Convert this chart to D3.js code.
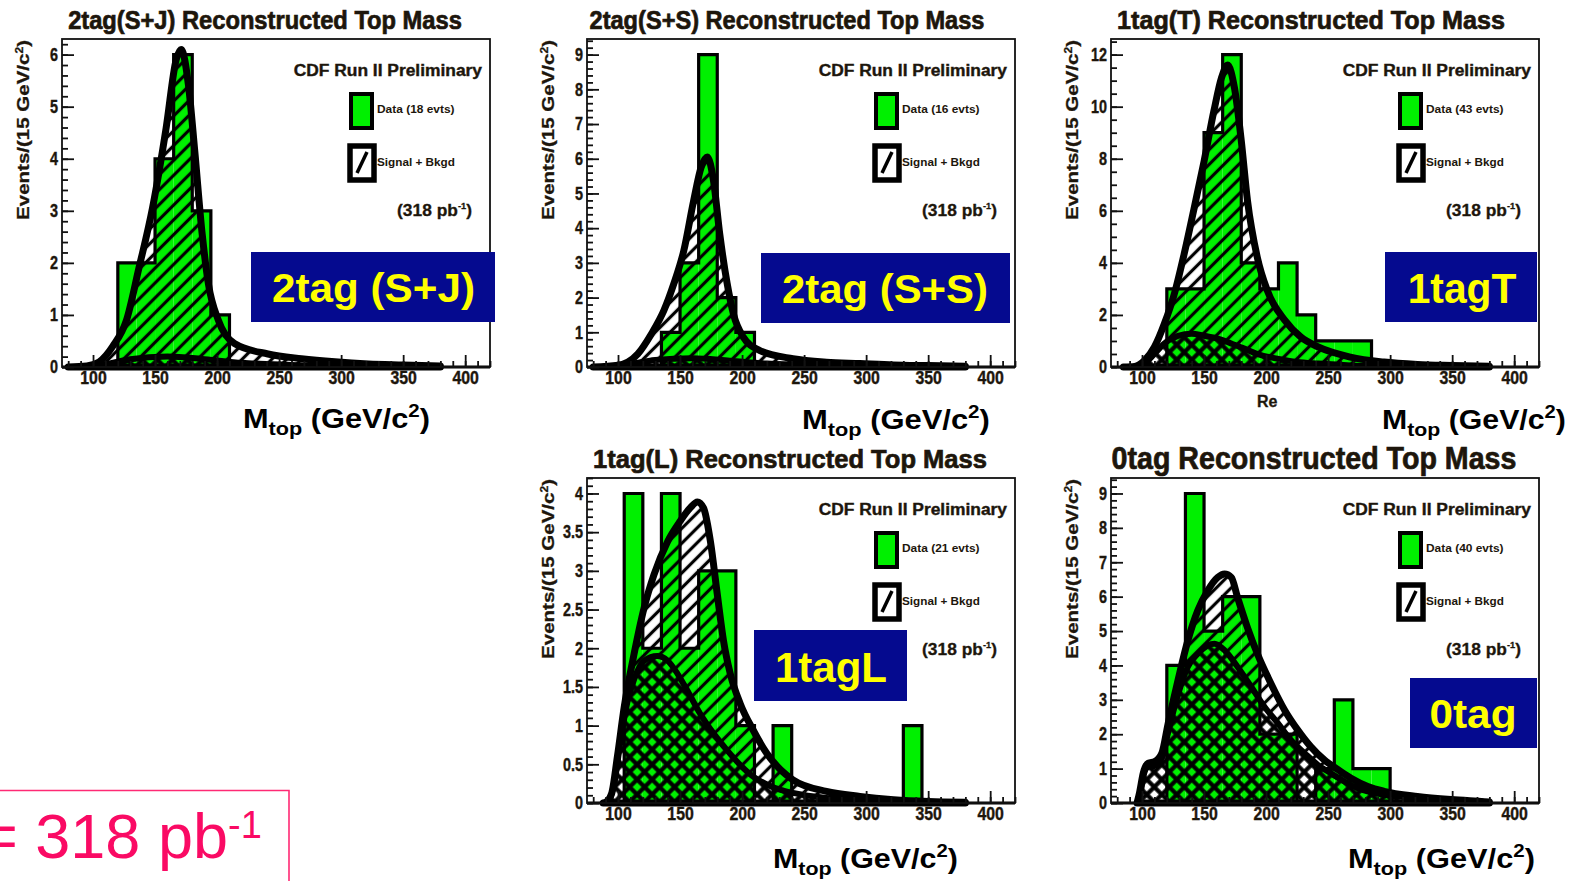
<!DOCTYPE html>
<html>
<head>
<meta charset="utf-8">
<script src="https://cdn.jsdelivr.net/npm/d3@7"></script>
<style>
  body { margin: 0; background: #fff; }
  svg { display: block; }
</style>
</head>
<body>
<svg id="fig" width="1572" height="881"></svg>
<script>
// ---- histogram binning: 15 GeV/c^2 bins from 75 to 420 GeV/c^2 (23 bins) ----
const massMin = 75, massMax = 420, binWidth = 15;
const massTicks = [100, 150, 200, 250, 300, 350, 400];

// ---- data counts per bin (first bin starts at 75) ----
const sjData = [0,0,0,2,2,4,6,3,1,0,0,0,0,0,0,0,0,0,0,0,0,0,0];
const ssData = [0,0,0,0,1,3,9,2,1,0,0,0,0,0,0,0,0,0,0,0,0,0,0];
const tData  = [0,0,0,3,3,9,12,4,3,4,2,1,1,1,0,0,0,0,0,0,0,0,0];
const lData  = [0,0,4,2,4,2,3,3,1,0,1,0,0,0,0,0,0,1,0,0,0,0,0];
const zData  = [0,0,0,4,9,5,6,6,2,2,0,1,3,1,1,0,0,0,0,0,0,0,0];

// ---- signal + background expectation, [mass, events] ----
const sjFit = [[80,0],[95,0.02],[105,0.1],[116,0.4],[127,0.9],[137,1.9],[148,3.06],[159,4.6],[167,5.9],[171,6.1],[177,5.4],[182,4.15],[188,2.55],[193,1.6],[201,0.9],[214,0.45],[241,0.25],[268,0.16],[295,0.1],[322,0.06],[350,0.04],[380,0.02]];
const ssFit = [[80,0],[100,0.05],[116,0.38],[127,0.96],[137,1.63],[145,2.4],[153,3.35],[161,4.8],[167,5.75],[172,6.05],[177,5.36],[182,3.83],[188,2.4],[193,1.53],[201,0.86],[214,0.48],[241,0.24],[268,0.14],[295,0.1],[322,0.06],[350,0.04],[380,0.02]];
const tFit  = [[85,0],[94,0.02],[102,0.25],[110,0.77],[118,1.66],[126,2.8],[134,4.35],[142,6.1],[150,7.9],[158,9.85],[164,11.1],[169,11.6],[174.6,10.7],[180,8.7],[185,6.4],[193,4.2],[201,2.94],[215,1.8],[228,1.15],[242,0.77],[268,0.38],[295,0.19],[322,0.1],[350,0.06],[380,0.03]];
const lFit  = [[88,0],[91,0.02],[95,0.13],[99.5,0.6],[105,1.24],[113,1.93],[121,2.52],[129,2.95],[140,3.38],[150,3.64],[158,3.81],[164,3.89],[169,3.81],[174.5,3.38],[180,2.7],[185,2.1],[190.5,1.67],[198.6,1.28],[209,0.94],[220,0.64],[231,0.43],[241,0.3],[268,0.15],[295,0.085],[322,0.043],[350,0.02],[380,0.01]];
const zFit  = [[96,0],[98,0.3],[101,0.87],[105,1.16],[110,1.2],[116,1.45],[121,2.3],[129,3.57],[137,4.73],[145,5.6],[153,6.18],[161,6.56],[166.5,6.66],[172,6.56],[177,5.98],[185,5.1],[193,4.34],[204,3.47],[215,2.7],[225.6,2.12],[236,1.64],[247,1.25],[258,0.97],[268.5,0.72],[282,0.48],[295,0.34],[322,0.19],[349,0.1],[376,0.04],[380,0.03]];

// ---- background-only expectation, [mass, events] ----
const sjBkg = [[95,0],[110,0.05],[130,0.15],[160,0.2],[190,0.15],[220,0.08],[260,0.04],[320,0.01],[380,0]];
const ssBkg = [[95,0],[110,0.08],[130,0.2],[160,0.25],[190,0.18],[220,0.1],[260,0.05],[320,0.02],[380,0]];
const tBkg  = [[95,0],[102,0.13],[110,0.5],[118,0.9],[129,1.2],[140,1.28],[150,1.2],[161,1.09],[172,0.9],[183,0.7],[193,0.5],[209,0.32],[225,0.19],[242,0.13],[268,0.06],[295,0.03],[330,0.01],[380,0]];
const lBkg  = [[92,0],[97,0.25],[102,0.8],[107.5,1.3],[113,1.6],[121,1.84],[131.6,1.9],[140,1.84],[148,1.67],[156,1.45],[166,1.16],[177,0.9],[188,0.68],[198.6,0.49],[209,0.34],[220,0.24],[231,0.17],[241,0.13],[268,0.064],[295,0.034],[322,0.017],[380,0]];
const zBkg  = [[97,0],[99,0.3],[101,0.77],[105,1.05],[110,1.08],[116,1.3],[121,2.05],[129,3.15],[137,3.96],[145,4.34],[153,4.58],[158.5,4.63],[166.5,4.44],[177,3.96],[188,3.38],[198.7,2.8],[209.5,2.32],[220,1.83],[231,1.45],[241.7,1.11],[252,0.87],[263,0.63],[274,0.43],[284.6,0.31],[295,0.24],[322,0.14],[349,0.08],[376,0.03],[380,0.02]];

// ---- y-axis tick labels per panel ----
const sjTicks = [0,1,2,3,4,5,6];
const ssTicks = [0,1,2,3,4,5,6,7,8,9];
const tTicks  = [0,2,4,6,8,10,12];
const lTicks  = [0,0.5,1,1.5,2,2.5,3,3.5,4];
const zTicks  = [0,1,2,3,4,5,6,7,8,9];

const titles = ["2tag(S+J) Reconstructed Top Mass", "2tag(S+S) Reconstructed Top Mass",
                "1tag(T) Reconstructed Top Mass", "1tag(L) Reconstructed Top Mass",
                "0tag Reconstructed Top Mass"];
const tags = ["2tag (S+J)", "2tag (S+S)", "1tagT", "1tagL", "0tag"];

const panels = [
  { data: sjData, fit: sjFit, bkg: sjBkg, yTicks: sjTicks, minor: 0.2 },
  { data: ssData, fit: ssFit, bkg: ssBkg, yTicks: ssTicks, minor: 0.2 },
  { data: tData,  fit: tFit,  bkg: tBkg,  yTicks: tTicks,  minor: 0.5 },
  { data: lData,  fit: lFit,  bkg: lBkg,  yTicks: lTicks,  minor: 0.1 },
  { data: zData,  fit: zFit,  bkg: zBkg,  yTicks: zTicks,  minor: 0.2 }
].map((p, i) => ({ ...p, title: titles[i], tag: tags[i] }));

// ---- page layout ----
const frames = [[62,39,490,367],[587,39,1015,367],[1111,39,1539,367],[587,478,1015,803],[1111,478,1539,803]];
const titleLayout = [ // center x, baseline, width, font size
  [265,29,394,26],[787,29,395,26],[1311,29,388,26],[790,468,394,26],[1314,469,405,31]];
const tagBoxes = [ // box x, y, w, h, text center x, baseline, text width, font size
  [251,252,244,70,373.5,302,203,40],[761,253,249,70,885,303,206,40],
  [1385,252,152,70,1462,303,109,42],[754,630,153,71,831,682,112,42],
  [1410,678,127,70,1473,728,87,40]];
const xTitles = [[243,428,187],[802,429,188],[1382,429,184],[773,868,185],[1348,868,187]];

const ink = "#1d160c";
const green = "#00f000";
const rootFont = "'Liberation Sans', Arial, Helvetica, sans-serif";

const svg = d3.select("#fig");
const defs = svg.append("defs");

// single hatch "/" for signal + background
const hatch = defs.append("pattern").attr("id", "hatch")
  .attr("patternUnits", "userSpaceOnUse").attr("width", 10.5).attr("height", 10.5)
  .attr("patternTransform", "rotate(45)");
hatch.append("line").attr("x1", 5.25).attr("y1", -1).attr("x2", 5.25).attr("y2", 11.5)
  .attr("stroke", "#000").attr("stroke-width", 3.2);

// cross hatch for background
const xhatch = defs.append("pattern").attr("id", "xhatch")
  .attr("patternUnits", "userSpaceOnUse").attr("width", 10.6).attr("height", 10.6)
  .attr("patternTransform", "rotate(45)");
xhatch.append("line").attr("x1", 5.3).attr("y1", -1).attr("x2", 5.3).attr("y2", 11.6)
  .attr("stroke", "#000").attr("stroke-width", 4.2);
xhatch.append("line").attr("x1", -1).attr("y1", 5.3).attr("x2", 11.6).attr("y2", 5.3)
  .attr("stroke", "#000").attr("stroke-width", 4.2);

// stretch a text element horizontally (around its anchor) to a given width
function fitWidth(sel, w) {
  const bb = sel.node().getBBox();
  const ax = +sel.attr("x") || 0, ay = +sel.attr("y") || 0;
  const s = w / bb.width;
  sel.attr("transform", `translate(${ax},${ay}) scale(${s},1) translate(${-ax},${-ay})`);
}
// heavy ROOT-style lettering
function heavy(sel, w) {
  return sel.attr("stroke", ink).attr("stroke-width", w || 0.5).attr("paint-order", "stroke");
}

panels.forEach((p, i) => {
  const [l, t, r, b] = frames[i];
  const x = d3.scaleLinear().domain([massMin, massMax]).range([l, r]);
  const ymax = 1.05 * d3.max(p.data);
  const y = d3.scaleLinear().domain([0, ymax]).range([b, t]);
  const g = svg.append("g");

  // data histogram fill
  const bins = p.data.map((c, k) => ({ lo: massMin + k * binWidth, c }));
  g.selectAll("rect.bar").data(bins.filter(d => d.c > 0)).join("rect")
    .attr("class", "bar")
    .attr("x", d => x(d.lo)).attr("width", d => x(d.lo + binWidth) - x(d.lo))
    .attr("y", d => y(d.c)).attr("height", d => y(0) - y(d.c))
    .attr("fill", green);

  const area = d3.area().x(d => x(d[0])).y0(y(0)).y1(d => y(d[1])).curve(d3.curveMonotoneX);

  // signal + background hatch, kept out of the background region
  const maskId = "noBkg" + i;
  const mask = defs.append("mask").attr("id", maskId)
    .attr("maskUnits", "userSpaceOnUse").attr("x", 0).attr("y", 0).attr("width", 1572).attr("height", 881);
  mask.append("rect").attr("width", 1572).attr("height", 881).attr("fill", "#fff");
  mask.append("path").attr("d", area(p.bkg)).attr("fill", "#000");
  g.append("path").attr("d", area(p.fit)).attr("fill", "url(#hatch)").attr("mask", `url(#${maskId})`);
  g.append("path").attr("d", area(p.bkg)).attr("fill", "url(#xhatch)");

  // data histogram outline
  const steps = bins.map(d => [d.lo, d.c]).concat([[massMax, 0]]);
  g.append("path")
    .attr("d", d3.line().x(d => x(d[0])).y(d => y(d[1])).curve(d3.curveStepAfter)(steps))
    .attr("fill", "none").attr("stroke", "#000").attr("stroke-width", 3.2);

  // expectation outlines
  g.append("path").attr("d", area(p.bkg)).attr("fill", "none")
    .attr("stroke", "#000").attr("stroke-width", 6).attr("stroke-linejoin", "round");
  g.append("path").attr("d", area(p.fit)).attr("fill", "none")
    .attr("stroke", "#000").attr("stroke-width", 7).attr("stroke-linejoin", "round");

  // frame
  g.append("rect").attr("x", l).attr("y", t).attr("width", r - l).attr("height", b - t)
    .attr("fill", "none").attr("stroke", "#111").attr("stroke-width", 1.8);

  // y axis (ticks inside the frame)
  const yMinor = d3.range(0, ymax + 1e-9, p.minor);
  const yMin = g.append("g").attr("transform", `translate(${l},0)`)
    .call(d3.axisLeft(y).tickValues(yMinor).tickSize(-6).tickSizeOuter(0).tickFormat(""));
  const yMaj = g.append("g").attr("transform", `translate(${l},0)`)
    .call(d3.axisLeft(y).tickValues(p.yTicks).tickSize(-12).tickSizeOuter(0).tickPadding(4).tickFormat(d3.format("~g")));
  // x axis
  const xMinorVals = d3.range(80, massMax + 1e-9, 10);
  const xMin = g.append("g").attr("transform", `translate(0,${b})`)
    .call(d3.axisBottom(x).tickValues(xMinorVals).tickSize(-6).tickSizeOuter(0).tickFormat(""));
  const xMaj = g.append("g").attr("transform", `translate(0,${b})`)
    .call(d3.axisBottom(x).tickValues(massTicks).tickSize(-12).tickSizeOuter(0).tickPadding(4));
  [yMin, yMaj, xMin, xMaj].forEach(a => {
    a.select(".domain").remove();
    a.selectAll("line").attr("stroke", "#111").attr("stroke-width", 1.8);
    a.selectAll("text").attr("font-family", rootFont).attr("font-weight", "bold")
      .attr("font-size", 18).attr("fill", ink);
    heavy(a.selectAll("text"), 0.4);
  });
  yMaj.selectAll("text").each(function () {
    const s = d3.select(this); fitWidth(s, this.getBBox().width * 0.8);
  });
  xMaj.selectAll("text").each(function () {
    const s = d3.select(this); fitWidth(s, this.getBBox().width * 0.88);
  });

  // y axis title
  const yt = g.append("g").attr("transform", `translate(${l - 33},${t + 1}) rotate(-90)`)
    .append("text").attr("x", 0).attr("y", 0).attr("text-anchor", "end")
    .attr("font-family", rootFont).attr("font-weight", "bold").attr("font-size", 17).attr("fill", ink);
  yt.append("tspan").text("Events/(15 GeV/c");
  yt.append("tspan").attr("dy", -6).attr("font-size", 10).text("2");
  yt.append("tspan").attr("dy", 6).text(")");
  heavy(yt, 0.3);
  fitWidth(yt, 180);

  // panel title
  const [tx, ty, tw, ts] = titleLayout[i];
  const title = g.append("text").attr("x", tx).attr("y", ty).attr("text-anchor", "middle")
    .attr("font-family", rootFont).attr("font-weight", "bold").attr("font-size", ts)
    .attr("fill", ink).text(p.title);
  heavy(title, 0.7);
  fitWidth(title, tw);

  // legend
  const cdf = g.append("text").attr("x", r - 8).attr("y", t + 37).attr("text-anchor", "end")
    .attr("font-family", rootFont).attr("font-weight", "bold").attr("font-size", 17)
    .attr("fill", ink).text("CDF Run II Preliminary");
  heavy(cdf, 0.4);
  fitWidth(cdf, 189);
  g.append("rect").attr("x", r - 139).attr("y", t + 55).attr("width", 21).attr("height", 34)
    .attr("fill", green).attr("stroke", "#000").attr("stroke-width", 4);
  const dl = g.append("text").attr("x", r - 113).attr("y", t + 74)
    .attr("font-family", rootFont).attr("font-weight", "bold").attr("font-size", 11)
    .attr("fill", ink).text(`Data (${d3.sum(p.data)} evts)`);
  fitWidth(dl, 78);
  g.append("rect").attr("x", r - 140).attr("y", t + 107).attr("width", 24).attr("height", 34)
    .attr("fill", "#fff").attr("stroke", "#000").attr("stroke-width", 5.5);
  g.append("line").attr("x1", r - 133).attr("y1", t + 134).attr("x2", r - 123).attr("y2", t + 113)
    .attr("stroke", "#000").attr("stroke-width", 3.5);
  const sl = g.append("text").attr("x", r - 113).attr("y", t + 127)
    .attr("font-family", rootFont).attr("font-weight", "bold").attr("font-size", 11)
    .attr("fill", ink).text("Signal + Bkgd");
  fitWidth(sl, 78);
  const lum = g.append("text").attr("x", r - 18).attr("y", t + 177).attr("text-anchor", "end")
    .attr("font-family", rootFont).attr("font-weight", "bold").attr("font-size", 17).attr("fill", ink);
  lum.append("tspan").text("(318 pb");
  lum.append("tspan").attr("dy", -7).attr("font-size", 9).text("-1");
  lum.append("tspan").attr("dy", 7).text(")");
  heavy(lum, 0.3);
  fitWidth(lum, 75);

  // category label
  const [bx, by, bw, bh, cx, cy, cw, cs] = tagBoxes[i];
  g.append("rect").attr("x", bx).attr("y", by).attr("width", bw).attr("height", bh).attr("fill", "#050a8f");
  const tag = g.append("text").attr("x", cx).attr("y", cy).attr("text-anchor", "middle")
    .attr("font-family", "'Liberation Sans', Arial, sans-serif").attr("font-weight", "bold")
    .attr("font-size", cs).attr("fill", "#ffff00").text(p.tag);
  fitWidth(tag, cw);

  // x axis title
  const [mx, my, mw] = xTitles[i];
  const xt = g.append("text").attr("x", mx).attr("y", my)
    .attr("font-family", "'Liberation Sans', Arial, sans-serif").attr("font-weight", "bold")
    .attr("font-size", 27).attr("fill", "#000");
  xt.append("tspan").text("M");
  xt.append("tspan").attr("dy", 7).attr("font-size", 19).text("top");
  xt.append("tspan").attr("dy", -7).text(" (GeV/c");
  xt.append("tspan").attr("dy", -11).attr("font-size", 18).text("2");
  xt.append("tspan").attr("dy", 11).text(")");
  fitWidth(xt, mw);
});

// leftover fragment of an axis title under the 1tag(T) panel
heavy(svg.append("text").attr("x", 1257).attr("y", 407)
  .attr("font-family", rootFont).attr("font-weight", "bold").attr("font-size", 16)
  .attr("fill", ink).text("Re"), 0.3);

// integrated luminosity box
svg.append("path").attr("d", "M0,790.5 H289 V881")
  .attr("fill", "none").attr("stroke", "#ff2a74").attr("stroke-width", 1.6);
const lumi = svg.append("text").attr("x", -19).attr("y", 858)
  .attr("font-family", "'Liberation Sans', Arial, sans-serif").attr("font-size", 63).attr("fill", "#fa0a64");
lumi.append("tspan").text("= 318 pb");
lumi.append("tspan").attr("dy", -20).attr("font-size", 38).text("-1");
</script>
</body>
</html>
